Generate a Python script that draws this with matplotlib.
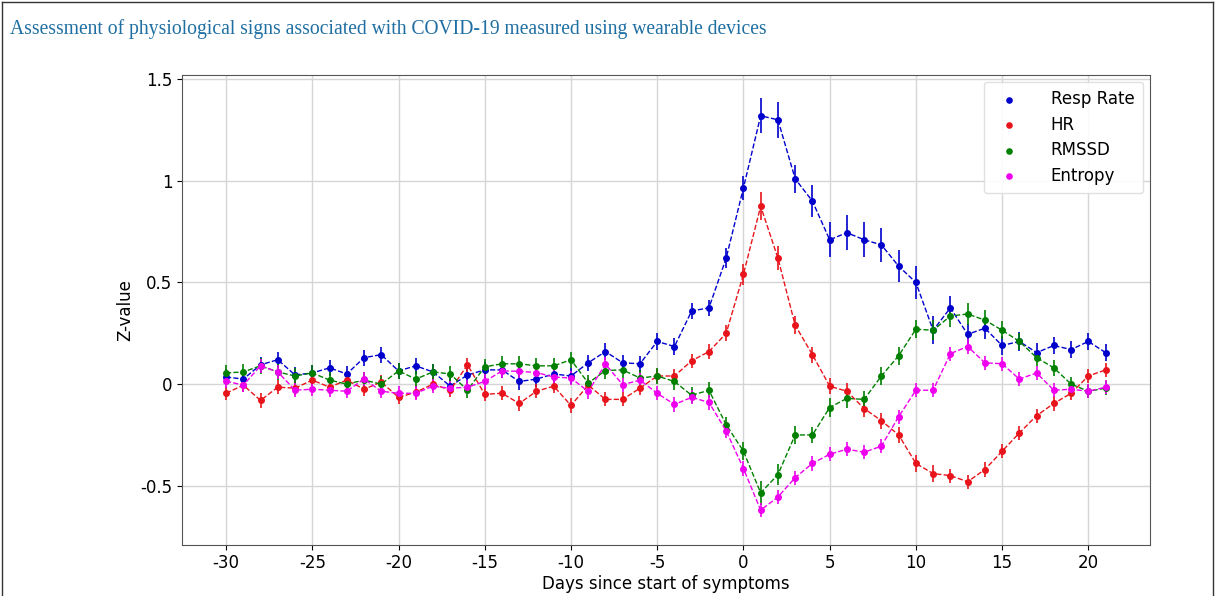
import matplotlib
matplotlib.use("Agg")
import matplotlib.pyplot as plt
from matplotlib.lines import Line2D

days = list(range(-30, 22))

resp_rate = [0.035, 0.025, 0.095, 0.12, 0.045, 0.055, 0.08, 0.05, 0.13, 0.145,
             0.065, 0.09, 0.06, -0.01, 0.045, 0.07, 0.07, 0.013, 0.025, 0.05,
             0.04, 0.105, 0.16, 0.105, 0.1, 0.21, 0.185, 0.36, 0.375, 0.62,
             0.965, 1.32, 1.30, 1.01, 0.90, 0.71, 0.745, 0.71, 0.685, 0.58,
             0.50, 0.265, 0.375, 0.245, 0.275, 0.19, 0.21, 0.155, 0.19, 0.17,
             0.21, 0.155]
hr = [-0.045, -0.005, -0.08, -0.015, -0.02, 0.02, -0.015, 0.02, -0.025, 0.01,
      -0.065, -0.04, 0.0, -0.03, 0.095, -0.05, -0.045, -0.095, -0.035, -0.01,
      -0.105, -0.005, -0.075, -0.075, -0.02, 0.04, 0.04, 0.115, 0.16, 0.25,
      0.54, 0.875, 0.62, 0.29, 0.145, -0.01, -0.035, -0.12, -0.18, -0.25,
      -0.39, -0.44, -0.45, -0.48, -0.42, -0.33, -0.24, -0.155, -0.095, -0.045,
      0.04, 0.07]
rmssd = [0.055, 0.06, 0.09, 0.06, 0.04, 0.055, 0.02, 0.0, 0.02, 0.0,
         0.065, 0.025, 0.06, 0.05, -0.03, 0.085, 0.1, 0.1, 0.09, 0.09,
         0.12, 0.005, 0.067, 0.07, 0.03, 0.04, 0.013, -0.055, -0.03, -0.2,
         -0.33, -0.535, -0.445, -0.25, -0.25, -0.115, -0.07, -0.075, 0.04, 0.14,
         0.27, 0.265, 0.335, 0.345, 0.315, 0.265, 0.21, 0.13, 0.08, 0.0,
         -0.035, -0.02]
entropy = [0.015, -0.005, 0.09, 0.06, -0.03, -0.025, -0.03, -0.035, 0.025, -0.035,
           -0.045, -0.045, -0.01, -0.02, -0.015, 0.013, 0.065, 0.063, 0.057, 0.035,
           0.03, -0.036, 0.098, -0.003, 0.02, -0.045, -0.1, -0.065, -0.09, -0.23,
           -0.415, -0.62, -0.555, -0.46, -0.39, -0.345, -0.32, -0.335, -0.305, -0.16,
           -0.03, -0.03, 0.15, 0.185, 0.105, 0.1, 0.025, 0.055, -0.03, -0.025,
           -0.035, -0.015]

# error bar half-lengths
resp_err = [0.04] * 27 + [0.04, 0.04, 0.05, 0.06, 0.085, 0.09, 0.07, 0.08, 0.085,
                          0.085, 0.085, 0.085, 0.08, 0.08, 0.07, 0.06, 0.05, 0.055,
                          0.045, 0.045, 0.045, 0.04, 0.04, 0.04, 0.04]
hr_err = [0.035] * 29 + [0.04, 0.05, 0.07, 0.06, 0.045, 0.04, 0.04, 0.04, 0.04,
                         0.04, 0.04, 0.04, 0.04, 0.035, 0.035, 0.035, 0.035, 0.035,
                         0.035, 0.035, 0.035, 0.035, 0.035]
rmssd_err = [0.04] * 30 + [0.045, 0.06, 0.05, 0.045, 0.04, 0.045, 0.045, 0.04, 0.045,
                           0.045, 0.045, 0.05, 0.055, 0.055, 0.05, 0.045, 0.04,
                           0.04, 0.04, 0.035, 0.035, 0.035]
entropy_err = [0.035] * 52

series = [("Resp Rate", resp_rate, resp_err, "#0000cc"),
          ("HR", hr, hr_err, "#e8141b"),
          ("RMSSD", rmssd, rmssd_err, "#008000"),
          ("Entropy", entropy, entropy_err, "#ee00ee")]

fig = plt.figure(figsize=(12.17, 5.96), dpi=100)
ax = fig.add_axes([0.1496, 0.086, 0.795, 0.788])

for name, vals, err, col in series:
    ax.errorbar(days, vals, yerr=err, fmt="o--", color=col, ms=4, lw=1,
                elinewidth=1.2, capsize=0)
    ax.scatter([], [], s=14, color=col, label=name)

ax.set_xlim(-32.55, 23.55)
ax.set_ylim(-0.79, 1.52)
xt = list(range(-30, 21, 5))
ax.set_xticks(xt)
ax.set_xticklabels([str(t) for t in xt], fontsize=12)
yt = [-0.5, 0, 0.5, 1, 1.5]
ax.set_yticks(yt)
ax.set_yticklabels(["-0.5", "0", "0.5", "1", "1.5"], fontsize=12)
ax.grid(True, color="#d5d5d5", lw=1)
ax.set_axisbelow(True)
ax.set_xlabel("Days since start of symptoms", fontsize=12, labelpad=2)
ax.set_ylabel("Z-value", fontsize=12)
for s in ax.spines.values():
    s.set_color("#555555")

ax.legend(loc="upper right", fontsize=12, handletextpad=1.5, borderpad=0.5,
          labelspacing=0.45, framealpha=0.9, edgecolor="#dddddd",
          borderaxespad=0.4)

fig.text(0.008, 0.952, "Assessment of physiological signs associated with COVID-19 "
         "measured using wearable devices", family="Liberation Serif",
         fontsize=14.1, color="#1f6fa3", va="center")

# thin border round the figure
for xs, ys in [([0.002, 0.002], [0, 0.997]), ([0.002, 0.997], [0.997, 0.997]),
               ([0.997, 0.997], [0, 0.997])]:
    fig.add_artist(Line2D(xs, ys, color="#333333", lw=1))

fig.savefig("out.png", dpi=100)
